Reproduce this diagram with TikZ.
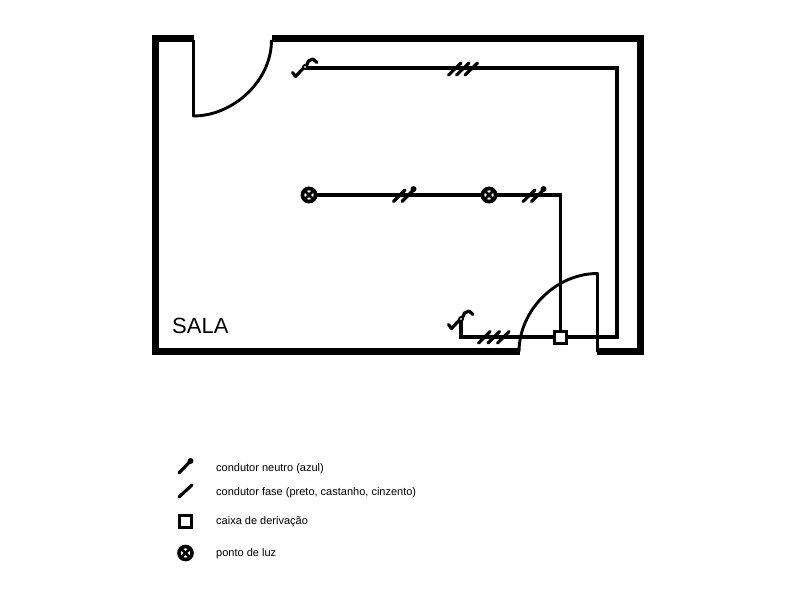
\documentclass[tikz,border=0pt]{standalone}
\usepackage{fontspec}
\setmainfont{Liberation Sans}
\tikzset{
  wall/.style={line width=7pt,line cap=butt,line join=miter},
  wire/.style={line width=3.1pt,line join=miter},
  door/.style={line width=2.9pt,line join=round},
  tick/.style={line width=3.2pt,line cap=round},
  lamp/.style={circle,draw,line width=3.6pt,minimum size=13pt,inner sep=0pt,fill=white,
    path picture={\draw[line width=2.6pt] (path picture bounding box.north west)--(path picture bounding box.south east)
      (path picture bounding box.north east)--(path picture bounding box.south west);}},
  jbox/.style={rectangle,draw,line width=3pt,minimum size=12pt,inner sep=0pt,fill=white},
  legendtext/.style={anchor=west,inner sep=0pt,font=\fontsize{11pt}{13pt}\selectfont},
  roomlabel/.style={anchor=west,inner sep=0pt,font=\fontsize{22pt}{25pt}\selectfont},
  dotend/.style={circle,fill=black,inner sep=0pt,minimum size=6pt},
  switchsym/.pic={
    \draw[line width=3.2pt,line join=round,line cap=round]
      (-12.5,4.5)--(-9.5,8.5)--(-1.5,0) (1.5,-2.5)--(3.5,-7)--(8,-9)--(12,-5.5);
    \draw[line width=1.8pt,fill=white] (0,-1) circle (2pt);
  }
}
\begin{document}
\begin{tikzpicture}[x=1pt,y=-1pt]
\useasboundingbox (0,0) rectangle (800,600);
% walls
\draw[wall] (194,38.5)--(155.5,38.5)--(155.5,351.5)--(520,351.5);
\draw[wall] (597,351.5)--(640.5,351.5)--(640.5,38.5)--(272,38.5);
% doors
\coordinate (d1a) at (193.5,40);
\coordinate (d1b) at (193.5,116);
\coordinate (d1c) at (271.5,40);
\draw[door] (d1a)--(d1b) .. controls (232,116) and (271.5,82) .. (d1c);
\coordinate (d2a) at (597.5,352);
\coordinate (d2b) at (597.5,273.5);
\coordinate (d2c) at (519,352);
\draw[door] (d2a)--(d2b) .. controls (556,273.5) and (519,310) .. (d2c);
% nodes
\node[lamp] (l1) at (309,195) {};
\node[lamp] (l2) at (489,195) {};
\node[jbox] (jb) at (560.5,337) {};
\coordinate (s1) at (305,68);
\coordinate (s2) at (461,320);
\coordinate (c1) at (617,68);
\coordinate (c2) at (617,337);
\coordinate (c3) at (560.5,195);
\coordinate (c4) at (461,337);
% wires
\draw[wire] (s1)--(c1)--(c2)--(jb.east);
\draw[wire] (l1)--(l2);
\draw[wire] (l2)--(c3)--(jb.north);
\draw[wire] (jb.west)--(c4)--(s2);
\node[lamp] at (l1) {};
\node[lamp] at (l2) {};
\node[jbox] at (jb) {};
% switches
\pic at (s1) {switchsym};
\pic at (s2) {switchsym};
% ticks
\draw[tick] (448.5,75)--(461,63) (456.5,75)--(469,63) (465,75)--(477.5,63);
\draw[tick] (393.5,201.5)--(405,190) (402,201.5)--(414,189.5);
\node[dotend] at (413.5,189) {};
\draw[tick] (523,201.5)--(535,190) (531.5,201.5)--(544,189.5);
\node[dotend] at (543.5,189) {};
\draw[tick] (478.5,343)--(490,331.5) (488,343)--(499.5,331.5) (497.5,343)--(509,331.5);
% room label
\node[roomlabel] (sala) at (172,325.5) {SALA};
% legend
\coordinate (n1) at (179,473);
\coordinate (n2) at (190.5,461);
\draw[tick] (n1)--(n2);
\node[dotend] at (n2) {};
\coordinate (f1) at (179,497);
\coordinate (f2) at (192,485);
\draw[tick] (f1)--(f2);
\node[jbox] (lb) at (185.5,521) {};
\node[lamp] (ll) at (185.5,553) {};
\node[legendtext] (t1) at (216,468.5) {condutor neutro (azul)};
\node[legendtext] (t2) at (216,493) {condutor fase (preto, castanho, cinzento)};
\node[legendtext] (t3) at (216,522) {caixa de derivação};
\node[legendtext] (t4) at (216,554) {ponto de luz};
\end{tikzpicture}
\end{document}
